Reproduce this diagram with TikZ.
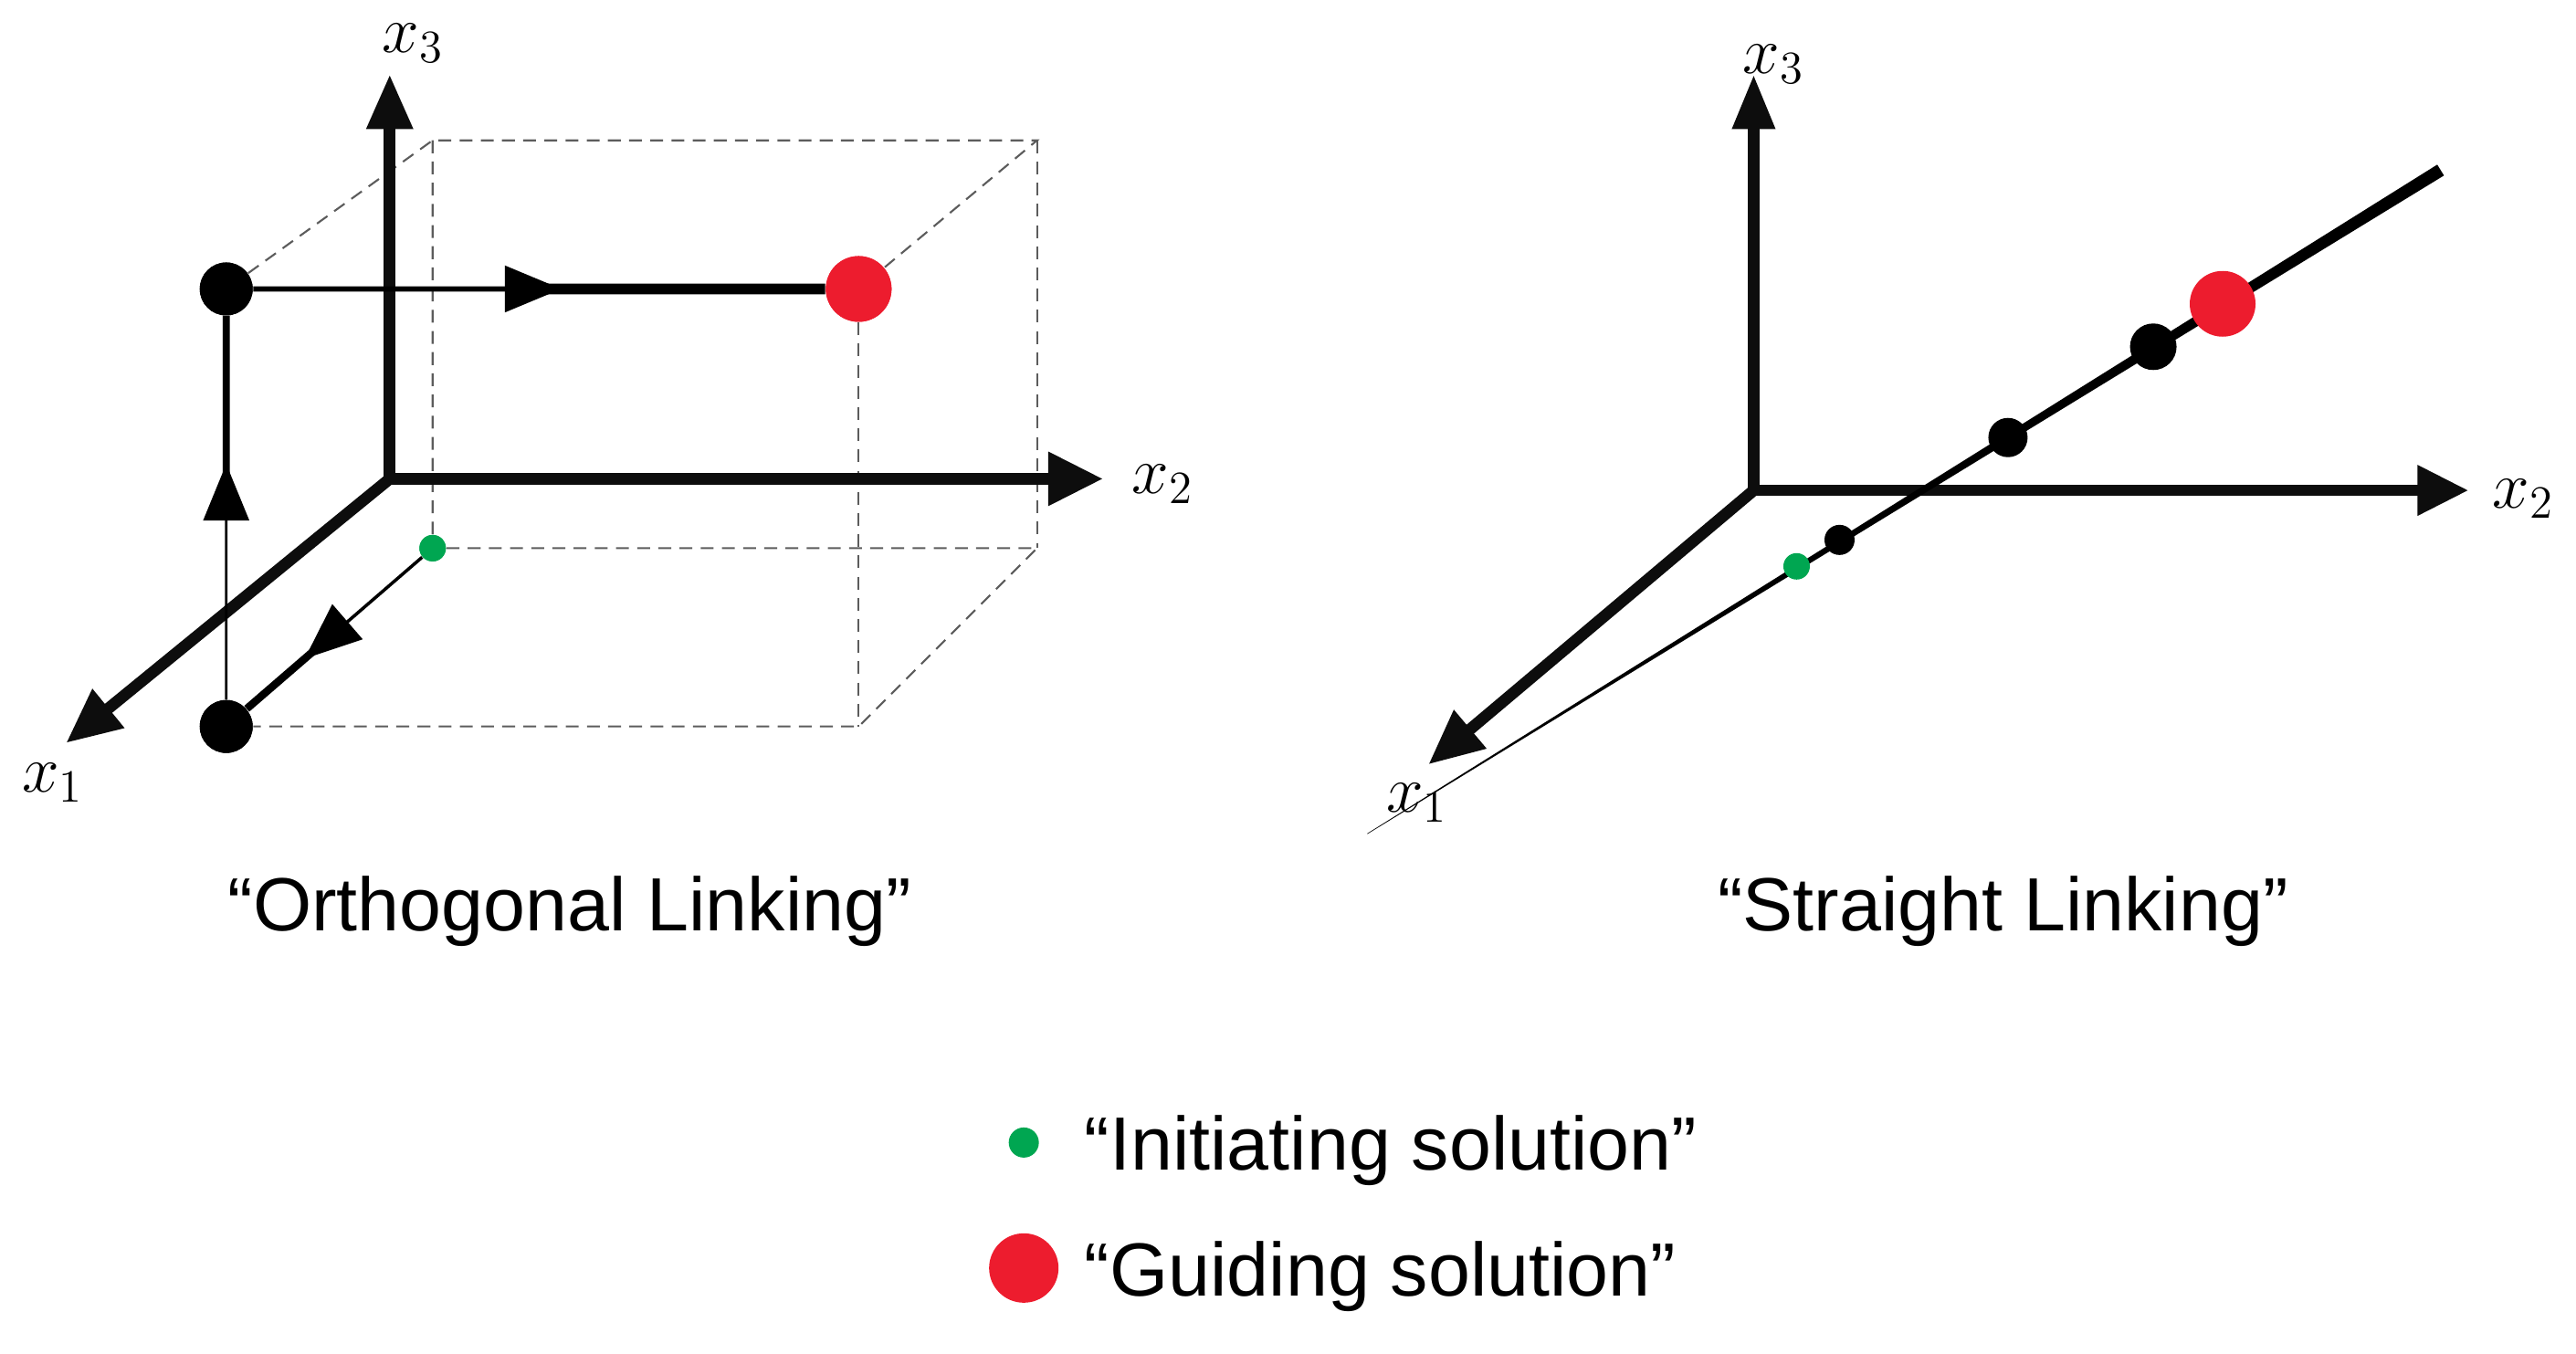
\documentclass[tikz,border=0pt]{standalone}
\usepackage{fontspec}
\setmainfont{Liberation Sans}
\usepackage{tikz}
\usetikzlibrary{arrows.meta,calc}
\definecolor{guidered}{HTML}{ED1C2E}
\definecolor{initgreen}{HTML}{00A651}
\definecolor{boxgray}{HTML}{5C5C5C}

\tikzset{
  axis/.style={line width=3.6pt,draw=black!95},
  bigtip/.style={-{Triangle[length=0.6cm,width=0.52cm]}},
  midtip/.style={-{Triangle[length=0.62cm,width=0.5cm]}},
  box/.style={draw=boxgray,line width=0.6pt,dash pattern=on 4pt off 2.6pt},
  dot/.style={circle,fill=black,inner sep=0pt,minimum size=#1},
  lab/.style={font=\fontsize{21}{23}\selectfont},
  title/.style={font=\fontsize{23.5}{28}\selectfont}
}

\begin{document}
\begin{tikzpicture}[x=0.01808cm,y=-0.01808cm]
\useasboundingbox (0,0) rectangle (1560,820);

% left: orthogonal linking
\coordinate (O) at (236,290);
\coordinate (x3) at (236,45);
\coordinate (x2) at (668,290);
\coordinate (x1) at (40,450);
\coordinate (bk1) at (262,85);
\coordinate (bk2) at (628,85);
\coordinate (bk3) at (628,332);
\coordinate (fr3) at (520,440);
\node[dot=0.29cm,fill=initgreen] (start) at (262,332) {};
\node[dot=0.58cm] (low) at (137,440) {};
\node[dot=0.58cm] (high) at (137,175) {};
\node[dot=0.72cm,fill=guidered] (guide) at (520,175) {};

\draw[box] (high) -- (bk1) -- (bk2) -- (guide);
\draw[box] (bk1) -- (start) -- (bk3) -- (fr3) -- (low);
\draw[box] (bk2) -- (bk3);
\draw[box] (guide) -- (fr3);

\draw[axis,{Triangle[length=0.6cm,width=0.48cm]}-{Triangle[length=0.6cm,width=0.56cm]}] (x3) -- (O) -- (x2);
\draw[axis,bigtip] (O) -- (x1);
\node[lab] (l3) at (250,26) {$x_3$};
\node[lab] (l2) at (704,293) {$x_2$};
\node[lab] (l1) at (32,474) {$x_1$};

% path from start to guide, thicker after each arrowhead
\coordinate (m1) at ($(start)!0.62!(low)$);
\coordinate (m2) at ($(low)!0.6!(high)$);
\coordinate (m3) at ($(high)!0.53!(guide)$);
\draw[line width=2.4pt] ($(m1)!0.3cm!(start)$) -- (low);
\draw[line width=2.2pt] ($(m2)!0.3cm!(low)$) -- (high);
\draw[line width=3.4pt] ($(m3)!0.3cm!(high)$) -- (guide);
\draw[line width=1pt,midtip] (start) -- (m1);
\draw[line width=0.8pt,midtip] (low) -- (m2);
\draw[line width=1.6pt,midtip] (high) -- (m3);

\node[dot=0.29cm,fill=initgreen] at (start) {};
\node[dot=0.58cm] at (low) {};
\node[dot=0.58cm] at (high) {};
\node[dot=0.72cm,fill=guidered] at (guide) {};

% right: straight linking
\coordinate (P) at (1062,297);
\coordinate (y3) at (1062,45);
\coordinate (y2) at (1495,297);
\coordinate (y1) at (865,463);
\coordinate (far) at (1478,103);
\coordinate (near) at (828,505);

\draw[axis,{Triangle[length=0.6cm,width=0.44cm]}-{Triangle[length=0.56cm,width=0.52cm]}] (y3) -- (P) -- (y2);
\draw[axis,bigtip] (P) -- (y1);
\node[lab] (r3) at (1074,39) {$x_3$};
\node[lab] (r2) at (1528,302) {$x_2$};
\node[lab] (r1) at (858,486) {$x_1$};

\fill ($(far)!0.07cm!90:(near)$) -- ($(far)!0.07cm!-90:(near)$)
  -- ($(near)!0.003cm!90:(far)$) -- ($(near)!0.003cm!-90:(far)$) -- cycle;

\node[dot=0.72cm,fill=guidered] (sguide) at (1346,184) {};
\node[dot=0.51cm] (s3) at (1304,210) {};
\node[dot=0.43cm] (s2) at (1216,265) {};
\node[dot=0.33cm] (s1) at (1114,327) {};
\node[dot=0.29cm,fill=initgreen] (sstart) at (1088,343) {};

% titles and legend
\node[title] (t1) at (345,552) {“Orthogonal Linking”};
\node[title] (t2) at (1213,552) {“Straight Linking”};
\node[dot=0.33cm,fill=initgreen] (kg) at (620,692) {};
\node[title,anchor=west] (kgt) at (650,697) {“Initiating solution”};
\node[dot=0.76cm,fill=guidered] (kr) at (620,768) {};
\node[title,anchor=west] (krt) at (650,773) {“Guiding solution”};
\end{tikzpicture}
\end{document}
